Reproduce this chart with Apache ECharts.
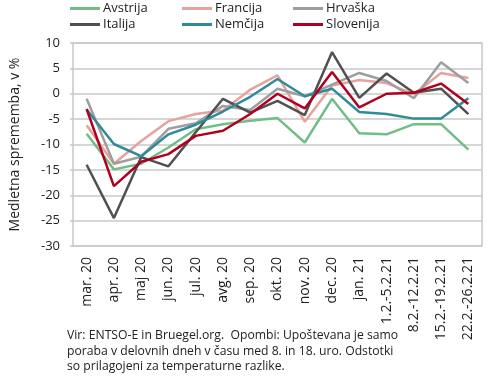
<!DOCTYPE html>
<html><head><meta charset="utf-8">
<script src="https://cdn.jsdelivr.net/npm/echarts@6/dist/echarts.min.js"></script>
<style>html,body{margin:0;padding:0;background:#fff}#c{width:490px;height:382px}</style>
</head><body><div id="c"></div>
<script>
const categories = ['mar. 20','apr. 20','maj 20','jun. 20','jul. 20','avg. 20','sep. 20','okt. 20','nov. 20','dec. 20','jan. 21','1.2.-5.2.21','8.2.-12.2.21','15.2.-19.2.21','22.2.-26.2.21'];
const avstrija  = [-7.9, -14.9, -13.8, -10.6, -7.0, -6.0, -5.3, -4.8, -9.6, -1.0, -7.8, -8.0, -6.0, -6.0, -11.0];
const francija  = [-6.2, -13.8, -9.3, -5.4, -4.0, -3.3, 0.8, 3.6, -5.5, 1.6, 2.7, 2.1, -0.1, 4.1, 3.1];
const hrvaska   = [-1.0, -13.8, -12.4, -6.9, -5.8, -2.4, -3.2, 1.0, -0.5, 1.8, 4.1, 2.5, -0.9, 6.2, 2.1];
const italija   = [-14.0, -24.5, -12.5, -14.3, -7.6, -1.0, -3.7, -1.4, -4.2, 8.2, -0.8, 4.0, 0.2, 1.0, -4.0];
const nemcija   = [-3.1, -9.9, -12.3, -8.0, -6.1, -3.5, -0.6, 2.9, -0.5, 1.0, -3.6, -4.0, -4.9, -4.9, -0.9];
const slovenija = [-3.0, -18.2, -13.4, -11.9, -8.3, -7.3, -4.0, 0.0, -2.9, 4.3, -2.7, 0.0, 0.2, 2.0, -2.0];
const yTicks = {min: -30, max: 10, step: 5};
const names = ['Avstrija','Francija','Hrvaška','Italija','Nemčija','Slovenija'];
const seriesData = [avstrija, francija, hrvaska, italija, nemcija, slovenija];
const colors = ['#72bd86','#e8a29e','#9e9e9e','#505050','#2e8b98','#b00020'];
const footnote = ['Vir: ENTSO-E in Bruegel.org.  Opombi: Upoštevana je samo','poraba v delovnih dneh v času med 8. in 18. uro. Odstotki','so prilagojeni za temperaturne razlike.'];

const FONT = 'Open Sans';
const legendPos = [[70,2],[182,2],[293,2],[70,18],[182,18],[293,18]];
const legends = names.map((n,i)=>({
  data:[n], left: legendPos[i][0], top: legendPos[i][1], icon:'rect', itemWidth:30, itemHeight:3,
  itemGap:0, padding:0, textStyle:{fontFamily:FONT, fontSize:13, color:'#222', padding:[0,0,0,-2]}
}));

const chart = echarts.init(document.getElementById('c'), null, {renderer:'canvas'});
chart.setOption({
  animation:false,
  color: colors,
  legend: legends,
  grid:{left:70, right:8, top:43, bottom:136, show:true, borderColor:'#c8c8c8', borderWidth:1.5, containLabel:false},
  xAxis:{type:'category', data:categories, boundaryGap:true,
    axisLine:{show:false}, axisTick:{show:false},
    axisLabel:{rotate:90, fontFamily:FONT, fontSize:14, color:'#222', margin:11, interval:0}},
  yAxis:{type:'value', min:yTicks.min, max:yTicks.max, interval:yTicks.step,
    name:'Medletna sprememba, v %', nameLocation:'middle', nameRotate:90, nameGap:51,
    nameTextStyle:{fontFamily:FONT, fontSize:14, color:'#222'},
    axisLine:{show:false}, axisTick:{show:true, length:3, lineStyle:{color:'#c8c8c8', width:1.5}},
    axisLabel:{fontFamily:FONT, fontSize:13, color:'#222', margin:13},
    splitLine:{lineStyle:{color:'#c8c8c8', width:1.5}}},
  graphic: footnote.map((t,i)=>({type:'text', left:67, top:330 + i*15.5,
    style:{text:t, font:'12.2px "'+FONT+'"', fill:'#222'}})),
  series: names.map((n,i)=>({name:n, type:'line', data:seriesData[i], showSymbol:false, symbol:'none',
    lineStyle:{width:2.5, color:colors[i]}, itemStyle:{color:colors[i]}}))
});
</script></body></html>
